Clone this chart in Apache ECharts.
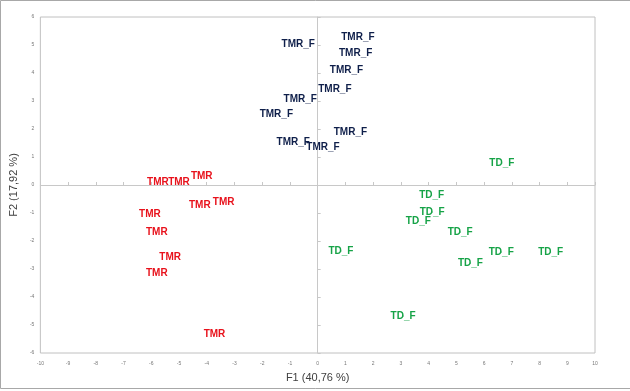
<!DOCTYPE html>
<html>
<head>
<meta charset="utf-8">
<script src="https://cdn.jsdelivr.net/npm/echarts@6/dist/echarts.min.js"></script>
<style>
html,body{margin:0;padding:0;background:#fff;}
#c{width:630px;height:391px;}
</style>
</head>
<body>
<div id="c"></div>
<script>
const xTicks = [-10,-9,-8,-7,-6,-5,-4,-3,-2,-1,0,1,2,3,4,5,6,7,8,9,10];
const yTicks = [-6,-5,-4,-3,-2,-1,0,1,2,3,4,5,6];
const xTitle = 'F1 (40,76 %)';
const yTitle = 'F2 (17,92 %)';

const tmrLabel = 'TMR';
const tmrX = [-5.76, -5.0, -4.18, -4.25, -3.39, -6.05, -5.8, -5.32, -5.8, -3.72];
const tmrY = [0.11, 0.11, 0.32, -0.71, -0.61, -1.04, -1.68, -2.57, -3.14, -5.32];

const tmrfLabel = 'TMR_F';
const tmrfX = [-0.7, 1.45, 1.37, 1.04, 0.62, -0.63, -1.49, 1.18, -0.88, 0.19];
const tmrfY = [5.04, 5.29, 4.71, 4.11, 3.43, 3.07, 2.54, 1.89, 1.54, 1.36];

const tdfLabel = 'TD_F';
const tdfX = [4.11, 4.13, 3.63, 5.14, 0.84, 6.62, 8.4, 5.51, 3.08, 6.64];
const tdfY = [-0.36, -0.96, -1.29, -1.68, -2.36, -2.39, -2.39, -2.79, -4.68, 0.79];

function pts(xs, ys){ return xs.map((x,i)=>[x, ys[i]]); }

function labelSeries(name, xs, ys, color){
  return {
    type: 'scatter', name: name, xAxisIndex: 0, yAxisIndex: 0,
    data: pts(xs, ys), symbolSize: 1, silent: true,
    itemStyle: {color: color, opacity: 1},
    label: {show: true, position: 'inside', formatter: name, color: color, opacity: 1,
      fontFamily: 'Liberation Sans, Arial, sans-serif', fontWeight: 'bold', fontSize: 10},
    emphasis: {disabled: true},
    z: 5
  };
}

const chart = echarts.init(document.getElementById('c'), null, {renderer: 'canvas'});
const tickLabelStyle = {fontSize: 5, color: '#777', fontFamily: 'Liberation Sans, Arial, sans-serif'};
chart.setOption({
  animation: false,
  backgroundColor: '#fff',
  grid: {left: 38, right: 35, top: 17, bottom: 38, show: true, borderColor: '#c0c0c0', borderWidth: 1, containLabel: false},
  xAxis: [
    {type: 'value', min: xTicks[0], max: xTicks[xTicks.length-1], interval: 1, position: 'bottom',
     axisLine: {show: false, onZero: false}, axisTick: {show: false}, splitLine: {show: false},
     axisLabel: Object.assign({margin: 8}, tickLabelStyle),
     name: xTitle, nameLocation: 'middle', nameGap: 19,
     nameTextStyle: {fontSize: 11, color: '#404040', fontFamily: 'Liberation Sans, Arial, sans-serif'}},
    {type: 'value', min: xTicks[0], max: xTicks[xTicks.length-1], interval: 1,
     axisLine: {show: true, onZero: true, onZeroAxisIndex: 1, lineStyle: {color: '#c8c8c8', width: 1}},
     axisTick: {show: true, length: 3, lineStyle: {color: '#c8c8c8'}},
     axisLabel: {show: false}, splitLine: {show: false}}
  ],
  yAxis: [
    {type: 'value', min: yTicks[0], max: yTicks[yTicks.length-1], interval: 1, position: 'left',
     axisLine: {show: false, onZero: false}, axisTick: {show: false}, splitLine: {show: false},
     axisLabel: Object.assign({margin: 6}, tickLabelStyle),
     name: yTitle, nameLocation: 'middle', nameGap: 19, nameRotate: 90,
     nameTextStyle: {fontSize: 11, color: '#404040', fontFamily: 'Liberation Sans, Arial, sans-serif'}},
    {type: 'value', min: yTicks[0], max: yTicks[yTicks.length-1], interval: 1,
     axisLine: {show: true, onZero: true, onZeroAxisIndex: 1, lineStyle: {color: '#c8c8c8', width: 1}},
     axisTick: {show: true, length: 3, lineStyle: {color: '#c8c8c8'}},
     axisLabel: {show: false}, splitLine: {show: false}}
  ],
  series: [
    labelSeries(tmrLabel, tmrX, tmrY, '#e8121c'),
    labelSeries(tmrfLabel, tmrfX, tmrfY, '#0f1f4a'),
    labelSeries(tdfLabel, tdfX, tdfY, '#16a347'),
    {type: 'scatter', xAxisIndex: 1, yAxisIndex: 1, data: [], silent: true}
  ],
  graphic: [
    {type: 'rect', shape: {x: 0.5, y: 0.5, width: 640, height: 388}, style: {fill: 'none', stroke: '#a8a8a8', lineWidth: 1}, silent: true}
  ]
});
</script>
</body>
</html>
